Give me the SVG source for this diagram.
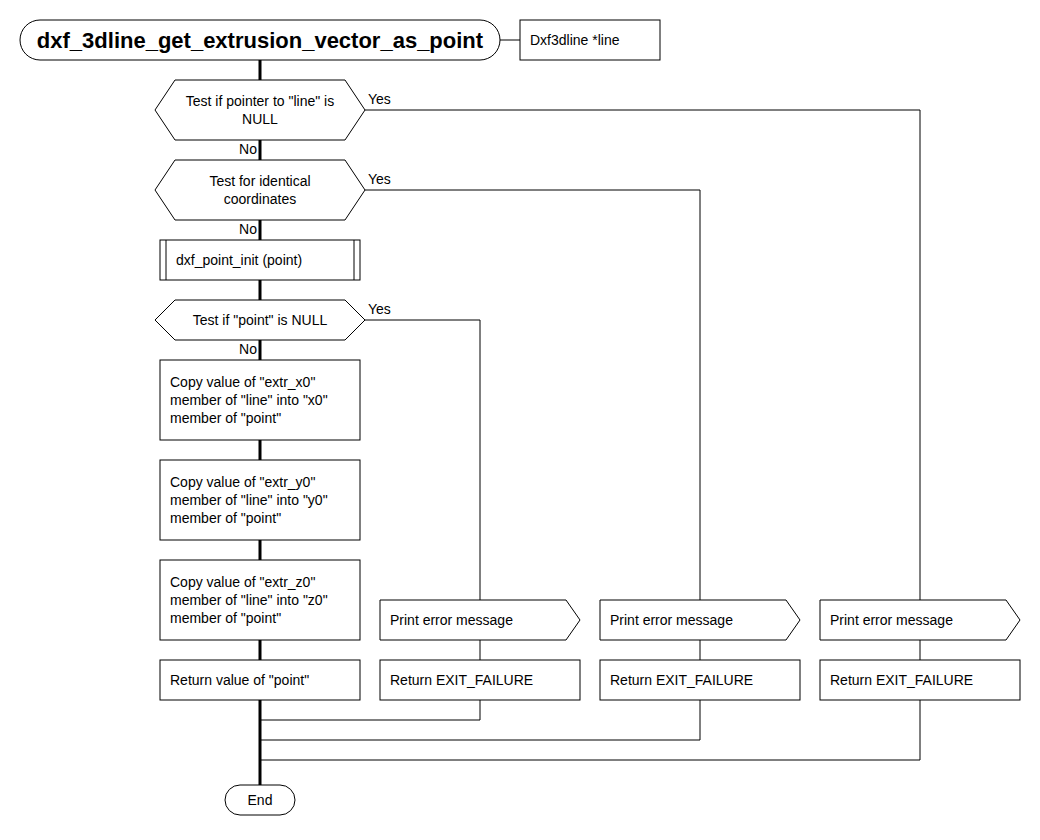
<svg xmlns="http://www.w3.org/2000/svg" width="1040" height="840" viewBox="0 0 1040 840">
<style>
.s{fill:#fff;stroke:#000;stroke-width:1}
.t{font-family:"Liberation Sans",Arial,sans-serif;font-size:14px;fill:#000}
.c{text-anchor:middle}
.e{text-anchor:end}
.th{fill:none;stroke:#000;stroke-width:3}
.tn{fill:none;stroke:#000;stroke-width:1}
</style>
<rect width="1040" height="840" fill="#fff"/>
<g id="connectors">
<path class="th" d="M260 60V80M260 140V160M260 220V240M260 280V300M260 340V360M260 440V460M260 540V560M260 640V660M260 700V785"/>
<path class="tn" d="M500 40H520"/>
<path class="tn" d="M365 110H920V600M920 640V660M920 700V760H260"/>
<path class="tn" d="M365 190H700V600M700 640V660M700 700V740H260"/>
<path class="tn" d="M365 320H480V600M480 640V660M480 700V720H260"/>
<text class="t" x="368" y="104">Yes</text>
<text class="t" x="368" y="184">Yes</text>
<text class="t" x="368" y="314">Yes</text>
<text class="t e" x="257" y="154">No</text>
<text class="t e" x="257" y="234">No</text>
<text class="t e" x="257" y="354">No</text>
</g>
<g id="start">
<rect class="s" x="20" y="20" width="480" height="40" rx="20"/>
<text class="t c" x="260" y="48" style="font-size:22px;font-weight:bold">dxf_3dline_get_extrusion_vector_as_point</text>
</g>
<g id="param">
<rect class="s" x="520" y="20" width="140" height="40"/>
<text class="t" x="530" y="45">Dxf3dline *line</text>
</g>
<g id="test1">
<polygon class="s" points="155,110 175,80 345,80 365,110 345,140 175,140"/>
<text class="t c" x="260" y="106">Test if pointer to "line" is</text>
<text class="t c" x="260" y="124">NULL</text>
</g>
<g id="test2">
<polygon class="s" points="155,190 175,160 345,160 365,190 345,220 175,220"/>
<text class="t c" x="260" y="186">Test for identical</text>
<text class="t c" x="260" y="204">coordinates</text>
</g>
<g id="init">
<rect class="s" x="160" y="240" width="200" height="40"/>
<path class="tn" d="M166 240V280M354 240V280"/>
<text class="t" x="176" y="265">dxf_point_init (point)</text>
</g>
<g id="test3">
<polygon class="s" points="155,320 175,300 345,300 365,320 345,340 175,340"/>
<text class="t c" x="260" y="325">Test if "point" is NULL</text>
</g>
<g id="copyx">
<rect class="s" x="160" y="360" width="200" height="80"/>
<text class="t" x="170" y="387">Copy value of "extr_x0"</text>
<text class="t" x="170" y="405">member of "line" into "x0"</text>
<text class="t" x="170" y="423">member of "point"</text>
</g>
<g id="copyy">
<rect class="s" x="160" y="460" width="200" height="80"/>
<text class="t" x="170" y="487">Copy value of "extr_y0"</text>
<text class="t" x="170" y="505">member of "line" into "y0"</text>
<text class="t" x="170" y="523">member of "point"</text>
</g>
<g id="copyz">
<rect class="s" x="160" y="560" width="200" height="80"/>
<text class="t" x="170" y="587">Copy value of "extr_z0"</text>
<text class="t" x="170" y="605">member of "line" into "z0"</text>
<text class="t" x="170" y="623">member of "point"</text>
</g>
<g id="retpoint">
<rect class="s" x="160" y="660" width="200" height="40"/>
<text class="t" x="170" y="685">Return value of "point"</text>
</g>
<g id="err1">
<polygon class="s" points="380,600 566,600 580,620 566,640 380,640"/>
<text class="t" x="390" y="625">Print error message</text>
</g>
<g id="ret1">
<rect class="s" x="380" y="660" width="200" height="40"/>
<text class="t" x="390" y="685">Return EXIT_FAILURE</text>
</g>
<g id="err2">
<polygon class="s" points="600,600 786,600 800,620 786,640 600,640"/>
<text class="t" x="610" y="625">Print error message</text>
</g>
<g id="ret2">
<rect class="s" x="600" y="660" width="200" height="40"/>
<text class="t" x="610" y="685">Return EXIT_FAILURE</text>
</g>
<g id="err3">
<polygon class="s" points="820,600 1006,600 1020,620 1006,640 820,640"/>
<text class="t" x="830" y="625">Print error message</text>
</g>
<g id="ret3">
<rect class="s" x="820" y="660" width="200" height="40"/>
<text class="t" x="830" y="685">Return EXIT_FAILURE</text>
</g>
<g id="end">
<rect class="s" x="225" y="785" width="70" height="30" rx="15"/>
<text class="t c" x="260" y="805">End</text>
</g>
</svg>
